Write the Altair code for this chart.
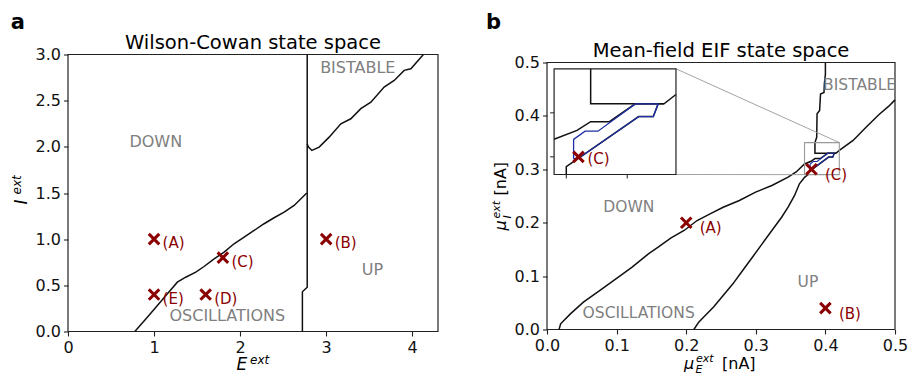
import altair as alt
import pandas as pd

# ---------------- panel a : Wilson-Cowan ----------------
WC_LOW_E = [0.775, 0.787, 0.922, 1.039, 1.155, 1.271, 1.368, 1.485, 1.581, 1.698, 1.814, 1.930,
            2.047, 2.163, 2.279, 2.395, 2.512, 2.628, 2.775]
WC_LOW_I = [0.0, 0.01, 0.155, 0.282, 0.408, 0.534, 0.588, 0.643, 0.704, 0.787, 0.859, 0.950,
            1.022, 1.094, 1.167, 1.232, 1.293, 1.365, 1.50]
WC_VERT_E = [2.78, 2.78, 2.724, 2.724]
WC_VERT_I = [3.0, 0.48, 0.43, 0.0]
WC_UP_E = [2.78, 2.795, 2.834, 2.919, 3.035, 3.171, 3.287, 3.403, 3.520, 3.674, 3.791, 3.907, 3.985, 4.12, 4.13]
WC_UP_I = [2.03, 1.997, 1.961, 1.997, 2.105, 2.250, 2.304, 2.413, 2.484, 2.647, 2.719, 2.828, 2.846, 2.99, 3.0]

WC_PT_E = [1.0, 3.0, 1.8, 1.6, 1.0]
WC_PT_I = [1.0, 1.0, 0.8, 0.4, 0.4]
WC_PT_LBL = ["(A)", "(B)", "(C)", "(D)", "(E)"]

WC_REG = ["DOWN", "BISTABLE", "UP", "OSCILLATIONS"]
WC_REG_E = [1.02, 3.368, 3.539, 1.852]
WC_REG_I = [2.056, 2.855, 0.661, 0.168]

WC_XTICKS = [0, 1, 2, 3, 4]
WC_YTICKS = [0.0, 0.5, 1.0, 1.5, 2.0, 2.5, 3.0]
WC_XDOM = [0, 4.3]
WC_YDOM = [0, 3.0]

# ---------------- panel b : mean-field EIF ----------------
EIF_DOWN_X = [0.0173, 0.0196, 0.0336, 0.0523, 0.0756, 0.099, 0.1223, 0.1457, 0.1597, 0.1783, 0.197,
              0.2157, 0.2343, 0.2531, 0.2764, 0.2997, 0.3231, 0.3464, 0.358, 0.37, 0.3794, 0.385,
              0.3927, 0.4033, 0.4151, 0.42, 0.4398, 0.4584, 0.4771, 0.4911, 0.5]
EIF_DOWN_Y = [0.0, 0.0106, 0.0293, 0.0512, 0.073, 0.0949, 0.1167, 0.1417, 0.1542, 0.1717, 0.1854,
              0.2041, 0.2166, 0.229, 0.2416, 0.2572, 0.2697, 0.2853, 0.295, 0.31, 0.315, 0.32,
              0.32, 0.3301, 0.3301, 0.3354, 0.354, 0.3789, 0.4026, 0.4182, 0.43]
EIF_UP_X = [0.211, 0.218, 0.2273, 0.239, 0.2531, 0.2671, 0.2811, 0.2951, 0.3091, 0.3231, 0.3371,
            0.3464, 0.3557, 0.3627, 0.370, 0.375, 0.375, 0.3804, 0.4047, 0.4107, 0.4127]
EIF_UP_Y = [0.0, 0.0137, 0.0262, 0.0418, 0.0637, 0.0855, 0.1105, 0.1354, 0.1604, 0.1854, 0.2103,
            0.229, 0.251, 0.2728, 0.285, 0.29, 0.2945, 0.2995, 0.3229, 0.3229, 0.3301]
EIF_BI_X = [0.400, 0.400, 0.3985, 0.398, 0.393, 0.3917, 0.388, 0.3875, 0.385, 0.385, 0.4151]
EIF_BI_Y = [0.500, 0.478, 0.460, 0.444, 0.441, 0.410, 0.404, 0.360, 0.350, 0.3301, 0.3301]
EIF_BLUE_X = [0.378, 0.378, 0.3827, 0.388, 0.4033, 0.4127, 0.4107, 0.4047, 0.3804, 0.378]
EIF_BLUE_Y = [0.2989, 0.3099, 0.3146, 0.3146, 0.3301, 0.3301, 0.3229, 0.3229, 0.2995, 0.2989]

EIF_PT_X = [0.2, 0.4, 0.38]
EIF_PT_Y = [0.2, 0.04, 0.30]
EIF_PT_LBL = ["(A)", "(B)", "(C)"]

EIF_REG = ["DOWN", "BISTABLE", "UP", "OSCILLATIONS"]
EIF_REG_X = [0.1176, 0.4491, 0.3749, 0.1317]
EIF_REG_Y = [0.229, 0.4585, 0.0895, 0.0305]

EIF_TICKS = [0.0, 0.1, 0.2, 0.3, 0.4, 0.5]
EIF_DOM = [0, 0.5]

ZOOM_X = [0.37, 0.42]          # zoomed region (data)
ZOOM_Y = [0.29, 0.35]
INSET_X = [0.0102, 0.1853]     # where the inset sits, in main-axis units
INSET_Y = [0.2903, 0.4882]
INSET_XTICKS = [0.375, 0.400]
INSET_YTICKS = [0.300, 0.325]

# ---------------- styling / layout ----------------
FONT = "DejaVu Sans"
DARKRED = "#8b0000"
GRAY = "#808080"
LINE = "#111111"
FRAME = "#222222"
BLUE = "#1c2fa8"
XSHAPE = "M-1,-1L1,1M-1,1L1,-1"
ONE = pd.DataFrame({"k": [0]})

WA, HA = 370, 277
WB, HB = 348, 277
B_TOP, B_BOT = 8, 2          # panel b frame inset (px) inside its view, top / bottom


def lines_df(series):
    rows = []
    for name, (xs, ys) in series.items():
        for i, (x, y) in enumerate(zip(xs, ys)):
            rows.append({"name": name, "i": i, "x": x, "y": y})
    return pd.DataFrame(rows)


def txt(text, x, y, size, align="left", angle=0, **kw):
    return alt.Chart(ONE).mark_text(text=text, x=x, y=y, fontSize=size, font=FONT, align=align,
                                    baseline="alphabetic", angle=angle, color="#000", **kw)


def axis(values, fmt, offset=0):
    return alt.Axis(values=values, format=fmt, title=None, labelFont=FONT, labelFontSize=16,
                    labelColor="#111", tickSize=4.5, tickColor=FRAME, tickWidth=1.1, offset=offset,
                    domain=False, grid=False, labelPadding=3, labelFlush=False, labelOverlap=False)


# ====================== panel a ======================
XS_A = alt.Scale(domain=WC_XDOM, nice=False, zero=False)
YS_A = alt.Scale(domain=WC_YDOM, nice=False, zero=False)
AX_A = axis(WC_XTICKS, "d")
AY_A = axis(WC_YTICKS, ".1f")


def xa(f):
    return alt.X(f, type="quantitative", scale=XS_A, axis=AX_A)


def ya(f):
    return alt.Y(f, type="quantitative", scale=YS_A, axis=AY_A)


frame_a = pd.DataFrame({"x": [WC_XDOM[0]], "x2": [WC_XDOM[1]], "y": [WC_YDOM[0]], "y2": [WC_YDOM[1]]})
a_frame = alt.Chart(frame_a).mark_rect(fillOpacity=0, stroke=FRAME, strokeWidth=1.2).encode(
    x=xa("x"), x2="x2", y=ya("y"), y2="y2")
wc_lines = lines_df({"low": (WC_LOW_E, WC_LOW_I), "vert": (WC_VERT_E, WC_VERT_I),
                     "up": (WC_UP_E, WC_UP_I)})
a_lines = alt.Chart(wc_lines).mark_line(color=LINE, strokeWidth=1.5).encode(
    x=xa("x"), y=ya("y"), detail="name:N", order="i:Q")
wc_pts = pd.DataFrame({"x": WC_PT_E, "y": WC_PT_I, "lbl": WC_PT_LBL})
a_pts = alt.Chart(wc_pts).mark_point(shape=XSHAPE, size=110, strokeWidth=3, filled=False,
                                     color=DARKRED, opacity=1).encode(x=xa("x"), y=ya("y"))
a_lbl = alt.Chart(wc_pts).mark_text(align="left", baseline="alphabetic", dx=8.5, dy=9, fontSize=15,
                                    font=FONT, color=DARKRED).encode(x=xa("x"), y=ya("y"), text="lbl:N")
wc_reg = pd.DataFrame({"x": WC_REG_E, "y": WC_REG_I, "t": WC_REG})
a_reg = alt.Chart(wc_reg).mark_text(align="center", baseline="middle", fontSize=16, font=FONT,
                                    color=GRAY).encode(x=xa("x"), y=ya("y"), text="t:N")

panel_a = alt.layer(
    a_frame, a_lines, a_pts, a_lbl, a_reg,
    txt("Wilson-Cowan state space", WA / 2, -6, 19.5, align="center"),
    txt("a", -57.3, -25.7, 21, fontWeight="bold"),
    txt("E", 168.5, 315.5, 17, fontStyle="italic"),
    txt("ext", 182, 309, 12, fontStyle="italic"),
    txt("I", -41, 150, 17, angle=270, fontStyle="italic"),
    txt("ext", -47, 140, 12, angle=270, fontStyle="italic"),
).properties(width=WA, height=HA)

# ====================== panel b ======================
# the b frame sits B_TOP px below the top and B_BOT px above the bottom of its view
unit_px = (HB - B_TOP - B_BOT) / (EIF_DOM[1] - EIF_DOM[0])
YB_DOM = [EIF_DOM[0] - B_BOT / unit_px, EIF_DOM[1] + B_TOP / unit_px]
XS_B = alt.Scale(domain=EIF_DOM, nice=False, zero=False)
YS_B = alt.Scale(domain=YB_DOM, nice=False, zero=False)
AX_B = axis(EIF_TICKS, ".1f", offset=-B_BOT)
AY_B = axis(EIF_TICKS, ".1f")


def xb(f):
    return alt.X(f, type="quantitative", scale=XS_B, axis=AX_B)


def yb(f):
    return alt.Y(f, type="quantitative", scale=YS_B, axis=AY_B)


frame_b = pd.DataFrame({"x": [EIF_DOM[0]], "x2": [EIF_DOM[1]], "y": [EIF_DOM[0]], "y2": [EIF_DOM[1]]})
b_frame = alt.Chart(frame_b).mark_rect(fillOpacity=0, stroke=FRAME, strokeWidth=1.2).encode(
    x=xb("x"), x2="x2", y=yb("y"), y2="y2")
eif_series = {"down": (EIF_DOWN_X, EIF_DOWN_Y), "up": (EIF_UP_X, EIF_UP_Y), "bi": (EIF_BI_X, EIF_BI_Y)}
eif_lines = lines_df(eif_series)
blue_df = lines_df({"blue": (EIF_BLUE_X, EIF_BLUE_Y)})

b_lines = alt.Chart(eif_lines).mark_line(color=LINE, strokeWidth=1.5).encode(
    x=xb("x"), y=yb("y"), detail="name:N", order="i:Q")
b_blue = alt.Chart(blue_df).mark_line(color=BLUE, strokeWidth=1.1).encode(
    x=xb("x"), y=yb("y"), order="i:Q")
zoom_df = pd.DataFrame({"x": [ZOOM_X[0]], "x2": [ZOOM_X[1]], "y": [ZOOM_Y[0]], "y2": [ZOOM_Y[1]]})
b_zoom = alt.Chart(zoom_df).mark_rect(fillOpacity=0, stroke="#999999", strokeWidth=1.1).encode(
    x=xb("x"), x2="x2", y=yb("y"), y2="y2")
conn_df = pd.DataFrame({"x": [INSET_X[1], INSET_X[1]], "y": [INSET_Y[1], INSET_Y[0]],
                        "x2": [ZOOM_X[1], ZOOM_X[0]], "y2": [ZOOM_Y[1], ZOOM_Y[0]]})
b_conn = alt.Chart(conn_df).mark_rule(color="#999999", strokeWidth=0.9).encode(
    x=xb("x"), y=yb("y"), x2="x2", y2="y2")
eif_pts = pd.DataFrame({"x": EIF_PT_X, "y": EIF_PT_Y, "lbl": EIF_PT_LBL})
b_pts = alt.Chart(eif_pts).mark_point(shape=XSHAPE, size=110, strokeWidth=3, filled=False,
                                      color=DARKRED, opacity=1).encode(x=xb("x"), y=yb("y"))
b_lbl = alt.Chart(eif_pts).mark_text(align="left", baseline="alphabetic", dx=13.5, dy=10.5, fontSize=15,
                                     font=FONT, color=DARKRED).encode(x=xb("x"), y=yb("y"), text="lbl:N")
eif_reg = pd.DataFrame({"x": EIF_REG_X, "y": EIF_REG_Y, "t": EIF_REG})
b_reg = alt.Chart(eif_reg).mark_text(align="center", baseline="middle", fontSize=15.5, font=FONT,
                                     color=GRAY).encode(x=xb("x"), y=yb("y"), text="t:N")

main_b = alt.layer(
    b_frame, b_lines, b_blue, b_zoom, b_conn, b_pts, b_lbl, b_reg,
    txt("Mean-field EIF state space", WB / 2, B_TOP - 6, 19.5, align="center"),
    txt("b", -61, -25.7, 21, fontWeight="bold"),
    txt("\u03bc", 137, 314.5, 16, fontStyle="italic"),
    txt("E", 148.5, 318.5, 11, fontStyle="italic"),
    txt("ext", 149, 307.5, 11, fontStyle="italic"),
    txt("[nA]", 175, 314.5, 16),
    txt("\u03bc", -41, 176, 16, angle=270, fontStyle="italic"),
    txt("I", -36.5, 164, 11, angle=270, fontStyle="italic"),
    txt("ext", -47.5, 164, 11, angle=270, fontStyle="italic"),
    txt("[nA]", -41, 141, 16, angle=270),
)

# inset scales: the ZOOM range is mapped onto the INSET rectangle of the main axes
fx0 = (INSET_X[0] - EIF_DOM[0]) / (EIF_DOM[1] - EIF_DOM[0])
fx1 = (INSET_X[1] - EIF_DOM[0]) / (EIF_DOM[1] - EIF_DOM[0])
fy0 = (INSET_Y[0] - YB_DOM[0]) / (YB_DOM[1] - YB_DOM[0])
fy1 = (INSET_Y[1] - YB_DOM[0]) / (YB_DOM[1] - YB_DOM[0])
span_x = (ZOOM_X[1] - ZOOM_X[0]) / (fx1 - fx0)
span_y = (ZOOM_Y[1] - ZOOM_Y[0]) / (fy1 - fy0)
ix0 = ZOOM_X[0] - fx0 * span_x
iy0 = ZOOM_Y[0] - fy0 * span_y
XS_I = alt.Scale(domain=[ix0, ix0 + span_x], nice=False, zero=False)
YS_I = alt.Scale(domain=[iy0, iy0 + span_y], nice=False, zero=False)


def xi(f):
    return alt.X(f, type="quantitative", scale=XS_I, axis=None)


def yi(f):
    return alt.Y(f, type="quantitative", scale=YS_I, axis=None)


eps = 1e-9
inset_lines = eif_lines[(eif_lines.x >= ZOOM_X[0] - eps) & (eif_lines.x <= ZOOM_X[1] + eps) &
                        (eif_lines.y >= ZOOM_Y[0] - eps) & (eif_lines.y <= ZOOM_Y[1] + eps)]
i_frame = alt.Chart(zoom_df).mark_rect(fill="white", stroke=FRAME, strokeWidth=1.2).encode(
    x=xi("x"), x2="x2", y=yi("y"), y2="y2")
i_lines = alt.Chart(inset_lines).mark_line(color=LINE, strokeWidth=1.5).encode(
    x=xi("x"), y=yi("y"), detail="name:N", order="i:Q")
i_blue = alt.Chart(blue_df).mark_line(color=BLUE, strokeWidth=1.3).encode(
    x=xi("x"), y=yi("y"), order="i:Q")
c_df = eif_pts[eif_pts.lbl == "(C)"]
i_pt = alt.Chart(c_df).mark_point(shape=XSHAPE, size=110, strokeWidth=3, filled=False,
                                  color=DARKRED, opacity=1).encode(x=xi("x"), y=yi("y"))
i_lbl = alt.Chart(c_df).mark_text(align="left", baseline="alphabetic", dx=9, dy=7.5, fontSize=15,
                                  font=FONT, color=DARKRED).encode(x=xi("x"), y=yi("y"), text="lbl:N")
xt_df = pd.DataFrame({"v": INSET_XTICKS, "e": [ZOOM_Y[0]] * len(INSET_XTICKS)})
yt_df = pd.DataFrame({"v": INSET_YTICKS, "e": [ZOOM_X[0]] * len(INSET_YTICKS)})
i_xt = alt.Chart(xt_df).mark_rule(color=FRAME, strokeWidth=1, y2Offset=4).encode(
    x=xi("v"), y=yi("e"), y2="e")
i_yt = alt.Chart(yt_df).mark_rule(color=FRAME, strokeWidth=1, x2Offset=-4).encode(
    y=yi("v"), x=xi("e"), x2="e")

inset_b = alt.layer(i_frame, i_lines, i_blue, i_pt, i_lbl, i_xt, i_yt)

panel_b = alt.layer(main_b, inset_b).resolve_scale(
    x="independent", y="independent").properties(width=WB, height=HB)

chart = alt.hconcat(panel_a, panel_b, spacing=47).properties(
    padding={"left": 2, "top": 3.5, "right": 0, "bottom": 0}
).configure_view(stroke=None)

chart.save("out.html", embed_options={"renderer": "svg", "actions": False})
